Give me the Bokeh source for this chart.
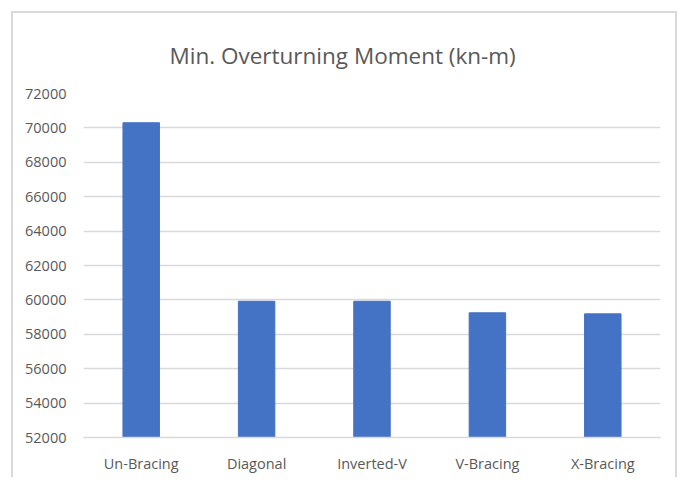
from bokeh.plotting import figure
from bokeh.models import Range1d, FixedTicker
from bokeh.embed import file_html
from bokeh.resources import INLINE

categories = ["Un-Bracing", "Diagonal", "Inverted-V", "V-Bracing", "X-Bracing"]
values = [70300, 59920, 59920, 59250, 59190]
y_ticks = [52000, 54000, 56000, 58000, 60000, 62000, 64000, 66000, 68000, 70000, 72000]
title_text = "Min. Overturning Moment  (kn-m)"

FONT = "Open Sans"
TXT = "#595959"
GRID = "#d9d9d9"

p = figure(x_range=categories, y_range=Range1d(52000, 72000),
           width=666, height=466, output_backend="svg", toolbar_location=None,
           min_border_left=70, min_border_right=19, min_border_top=80, min_border_bottom=42)
p.styles = {"margin": "11px 0 0 11px",
            "border-top": "2px solid #d9d9d9",
            "border-left": "2px solid #d9d9d9",
            "border-right": "2px solid #d9d9d9"}

p.vbar(x=categories, top=values, bottom=52000, width=0.316,
       fill_color="#4472C4", line_color="#4472C4")

p.title.text = title_text
p.title.text_font = FONT
p.title.text_font_size = "22.5px"
p.title.text_font_style = "normal"
p.title.text_color = TXT
p.title.align = "left"
p.title.offset = 86
p.title.standoff = 42
p.title.vertical_align = "top"

p.outline_line_color = None
p.xgrid.grid_line_color = None
p.ygrid.grid_line_color = GRID
p.ygrid.grid_line_width = 1.5

p.yaxis.ticker = FixedTicker(ticks=y_ticks)
p.yaxis.axis_line_color = None
p.yaxis.major_tick_line_color = None
p.yaxis.minor_tick_line_color = None
p.yaxis.major_label_text_font = FONT
p.yaxis.major_label_text_font_size = "14.5px"
p.yaxis.major_label_text_color = TXT
p.yaxis.major_label_standoff = 11

p.xaxis.axis_line_color = GRID
p.xaxis.axis_line_width = 1.5
p.xaxis.major_tick_line_color = None
p.xaxis.minor_tick_line_color = None
p.xaxis.major_label_text_font = FONT
p.xaxis.major_label_text_font_size = "14.5px"
p.xaxis.major_label_text_color = TXT
p.xaxis.major_label_standoff = 10

open("out.html", "w").write(file_html(p, INLINE))
